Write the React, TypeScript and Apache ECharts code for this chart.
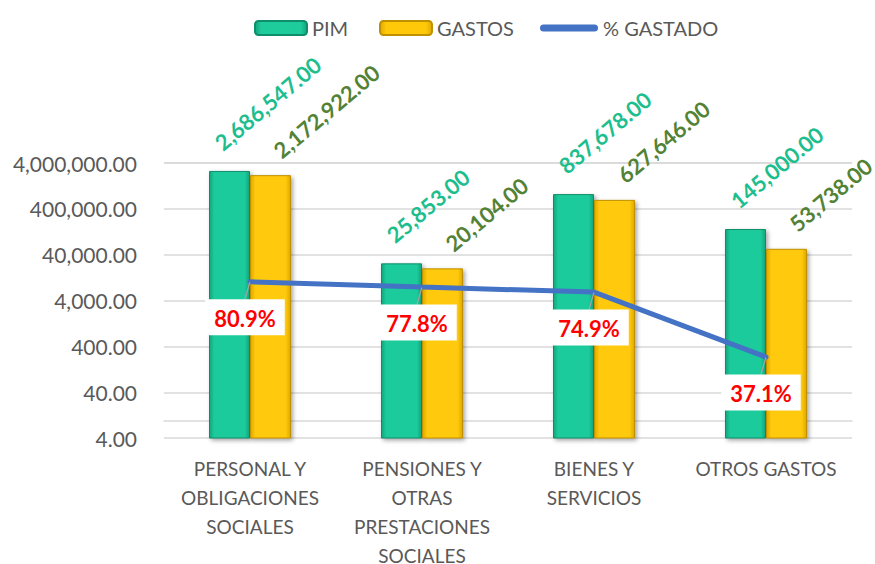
import React, { useEffect, useRef } from "react";
import * as echarts from "echarts";

const categories = [
  "PERSONAL Y\nOBLIGACIONES\nSOCIALES",
  "PENSIONES Y\nOTRAS\nPRESTACIONES\nSOCIALES",
  "BIENES Y\nSERVICIOS",
  "OTROS GASTOS",
];
const pimValues = [2686547, 25853, 837678, 145000];
const gastosValues = [2172922, 20104, 627646, 53738];
const pctValues = [80.9, 77.8, 74.9, 37.1];
const seriesNames = ["PIM", "GASTOS", "% GASTADO"];

const FONT = "Lato, 'Noto Sans', sans-serif";

const fmtMoney = (v: number) =>
  v.toLocaleString("en-US", { minimumFractionDigits: 2, maximumFractionDigits: 2 });

export default function App() {
  const ref = useRef<HTMLDivElement>(null);
  useEffect(() => {
    if (!ref.current) return;
    const chart = echarts.init(ref.current, undefined, { renderer: "svg" });
    const pimGrad = new echarts.graphic.LinearGradient(0, 0, 1, 0, [
      { offset: 0, color: "#12A57D" },
      { offset: 0.12, color: "#1ECB9B" },
      { offset: 0.88, color: "#1ECB9B" },
      { offset: 1, color: "#12A57D" },
    ]);
    const gasGrad = new echarts.graphic.LinearGradient(0, 0, 1, 0, [
      { offset: 0, color: "#E0A800" },
      { offset: 0.12, color: "#FFC90A" },
      { offset: 0.88, color: "#FFC90A" },
      { offset: 1, color: "#E0A800" },
    ]);
    const legendText = { color: "#595959", fontSize: 20, fontFamily: FONT };
    chart.setOption({
      animation: false,
      textStyle: { fontFamily: FONT },
      legend: [
        {
          top: 13,
          left: 249,
          itemWidth: 52,
          itemHeight: 14,
          textStyle: legendText,
          data: [seriesNames[0]],
        },
        {
          top: 13,
          left: 374,
          itemWidth: 52,
          itemHeight: 14,
          textStyle: legendText,
          data: [seriesNames[1]],
        },
        {
          top: 13,
          left: 535,
          itemWidth: 58,
          itemHeight: 14,
          textStyle: legendText,
          data: [
            {
              name: seriesNames[2],
              icon: "path://M3.5,0 L54.5,0 A3.5,3.5 0 0 1 54.5,7 L3.5,7 A3.5,3.5 0 0 1 3.5,0 Z",
            },
          ],
        },
      ],
      grid: { left: 164, right: 23, top: 163, bottom: 126, outerBoundsMode: "none" },
      xAxis: {
        type: "category",
        data: categories,
        axisLine: { lineStyle: { color: "#D9D9D9", width: 1.5 } },
        axisTick: { show: false },
        axisLabel: {
          interval: 0,
          color: "#595959",
          fontSize: 19,
          lineHeight: 29,
          margin: 16,
          fontFamily: FONT,
        },
      },
      yAxis: [
        {
          type: "log",
          logBase: 10,
          min: 4,
          max: 4000000,
          interval: 1,
          axisLine: { show: false },
          axisTick: { show: false },
          splitLine: { lineStyle: { color: "#D9D9D9", width: 1.5 } },
          axisLabel: {
            color: "#595959",
            fontSize: 21,
            margin: 27,
            fontFamily: FONT,
            formatter: (v: number) => fmtMoney(Number(v.toPrecision(1))),
          },
        },
        {
          type: "value",
          min: -10,
          max: 150,
          show: false,
          splitLine: { show: false },
        },
      ],
      series: [
        {
          name: seriesNames[0],
          type: "bar",
          data: pimValues,
          barWidth: 41,
          barGap: "0%",
          itemStyle: {
            color: pimGrad,
            borderColor: "#0E8E6A",
            borderWidth: 1,
            shadowColor: "rgba(0,0,0,0.35)",
            shadowBlur: 4,
            shadowOffsetX: 2,
            shadowOffsetY: 2,
          },
          label: {
            show: true,
            position: "top",
            distance: 0,
            rotate: 40,
            align: "left",
            verticalAlign: "middle",
            offset: [7.5, -27],
            color: "#1DBE8E",
            fontWeight: "bold",
            fontSize: 22,
            fontFamily: FONT,
            formatter: (p: any) => fmtMoney(p.value),
          },
        },
        {
          name: seriesNames[1],
          type: "bar",
          data: gastosValues,
          barWidth: 41,
          barGap: "0%",
          itemStyle: {
            color: gasGrad,
            borderColor: "#BF9000",
            borderWidth: 1,
            shadowColor: "rgba(0,0,0,0.35)",
            shadowBlur: 4,
            shadowOffsetX: 2,
            shadowOffsetY: 2,
          },
          label: {
            show: true,
            position: "top",
            distance: 0,
            rotate: 40,
            align: "left",
            verticalAlign: "middle",
            offset: [18.7, -13],
            color: "#548235",
            fontWeight: "bold",
            fontSize: 22,
            fontFamily: FONT,
            formatter: (p: any) => fmtMoney(p.value),
          },
        },
        {
          name: seriesNames[2],
          type: "line",
          yAxisIndex: 1,
          data: pctValues,
          symbol: "circle",
          symbolSize: 1,
          showSymbol: true,
          itemStyle: { color: "#4472C4" },
          lineStyle: { color: "#4472C4", width: 5, cap: "round" },
          z: 5,
          label: {
            show: true,
            position: "bottom",
            distance: 0,
            color: "#FF0000",
            fontWeight: "bold",
            fontSize: 22,
            fontFamily: FONT,
            backgroundColor: "#FFFFFF",
            padding: [8, 9, 6, 9],
            formatter: (p: any) => p.value.toFixed(1) + "%",
          },
          labelLayout: { dx: -5, dy: 17 },
          labelLine: { show: true, lineStyle: { color: "#A6A6A6", width: 1.2 } },
        },
      ],
    });
    return () => chart.dispose();
  }, []);
  return (
    <div
      ref={ref}
      style={{ position: "absolute", left: 0, top: 0, width: 875, height: 564 }}
    />
  );
}
